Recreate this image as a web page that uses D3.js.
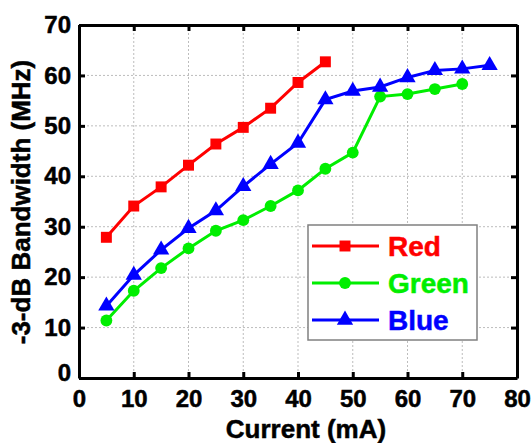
<!DOCTYPE html>
<html>
<head>
<meta charset="utf-8">
<script src="https://cdn.jsdelivr.net/npm/d3@7"></script>
<style>
  html, body { margin: 0; padding: 0; background: #fff; }
  svg { display: block; font-family: "Liberation Sans", Arial, sans-serif; font-weight: bold; }
</style>
</head>
<body>
<div id="root"></div>
<script>
const currents = [5, 10, 15, 20, 25, 30, 35, 40, 45, 50, 55, 60, 65, 70, 75];
const redValues = [27.9, 34.1, 37.9, 42.2, 46.4, 49.7, 53.5, 58.6, 62.7];
const greenValues = [11.4, 17.3, 21.8, 25.7, 29.2, 31.3, 34.1, 37.2, 41.5, 44.7, 55.8, 56.3, 57.3, 58.3];
const blueValues = [14.3, 20.4, 25.4, 29.7, 33.2, 38.0, 42.4, 46.6, 55.2, 56.9, 57.7, 59.6, 61.0, 61.3, 62.0];
const xTicks = [0, 10, 20, 30, 40, 50, 60, 70, 80];
const yTicks = [0, 10, 20, 30, 40, 50, 60, 70];

function drawChart() {
  const width = 532;
  const height = 443;
  const plotLeft = 79;
  const plotRight = 517;
  const plotTop = 25;
  const plotBottom = 378;

  const svg = d3.select('#root').append('svg')
    .attr('width', width)
    .attr('height', height);

  const x = d3.scaleLinear().domain([0, 80]).range([plotLeft, plotRight]);
  const y = d3.scaleLinear().domain([0, 70]).range([plotBottom, plotTop]);

  // dotted grid
  const grid = svg.append('g')
    .attr('stroke', '#bdbdbd')
    .attr('stroke-width', 1)
    .attr('stroke-dasharray', '2,2');
  grid.selectAll('line.vx')
    .data(xTicks.slice(1, -1))
    .join('line')
    .attr('x1', (d) => x(d)).attr('x2', (d) => x(d))
    .attr('y1', plotTop).attr('y2', plotBottom);
  grid.selectAll('line.hy')
    .data(yTicks.slice(1, -1))
    .join('line')
    .attr('x1', plotLeft).attr('x2', plotRight)
    .attr('y1', (d) => y(d)).attr('y2', (d) => y(d));

  const series = [
    { name: 'Red', color: '#ff0000', symbol: d3.symbolSquare, size: 120, values: redValues },
    { name: 'Green', color: '#00ee00', symbol: d3.symbolCircle, size: 110, values: greenValues },
    { name: 'Blue', color: '#0000ff', symbol: d3.symbolTriangle, size: 115, values: blueValues },
  ];

  const lineGen = d3.line()
    .x((d) => x(d[0]))
    .y((d) => y(d[1]));

  series.forEach((s) => {
    const pts = s.values.map((v, i) => [currents[i], v]);
    svg.append('path')
      .datum(pts)
      .attr('fill', 'none')
      .attr('stroke', s.color)
      .attr('stroke-width', 3)
      .attr('d', lineGen);
    svg.append('g')
      .selectAll('path')
      .data(pts)
      .join('path')
      .attr('fill', s.color)
      .attr('transform', (d) => `translate(${x(d[0])},${y(d[1])})`)
      .attr('d', d3.symbol().type(s.symbol).size(s.size));
  });

  // axes, ticks inward on all four sides
  const tickLen = 6;
  const styleAxis = (g) => {
    g.select('.domain').attr('stroke', '#000').attr('stroke-width', 3);
    g.selectAll('.tick line').attr('stroke', '#000').attr('stroke-width', 3);
    g.selectAll('.tick text')
      .attr('fill', '#000')
      .attr('stroke', '#000')
      .attr('stroke-width', 0.5)
      .style('font-size', '24px')
      .style('font-weight', 'bold')
      .style('font-family', '"Liberation Sans", Arial, sans-serif');
  };

  svg.append('g')
    .attr('transform', `translate(0,${plotBottom})`)
    .call(d3.axisBottom(x).tickValues(xTicks).tickSizeInner(-tickLen).tickSizeOuter(0).tickPadding(12))
    .call(styleAxis);
  svg.append('g')
    .attr('transform', `translate(0,${plotTop})`)
    .call(d3.axisTop(x).tickValues(xTicks).tickSizeInner(-tickLen).tickSizeOuter(0).tickFormat(''))
    .call(styleAxis);
  svg.append('g')
    .attr('transform', `translate(${plotLeft},0)`)
    .call(d3.axisLeft(y).tickValues(yTicks).tickSizeInner(-tickLen).tickSizeOuter(0).tickPadding(8))
    .call(styleAxis)
    .call((g) => g.selectAll('.tick text').filter((d) => d === 0).attr('dy', '0.1em'));
  svg.append('g')
    .attr('transform', `translate(${plotRight},0)`)
    .call(d3.axisRight(y).tickValues(yTicks).tickSizeInner(-tickLen).tickSizeOuter(0).tickFormat(''))
    .call(styleAxis);

  // axis titles
  svg.append('text')
    .attr('x', 306)
    .attr('y', 438)
    .attr('text-anchor', 'middle')
    .attr('stroke', '#000')
    .attr('stroke-width', 0.5)
    .style('font-size', '26px')
    .text('Current (mA)');
  svg.append('text')
    .attr('transform', `translate(30,202) rotate(-90)`)
    .attr('text-anchor', 'middle')
    .attr('stroke', '#000')
    .attr('stroke-width', 0.5)
    .style('font-size', '26px')
    .text('-3-dB Bandwidth (MHz)');

  // legend
  const legend = svg.append('g');
  legend.append('rect')
    .attr('x', 308).attr('y', 225)
    .attr('width', 169).attr('height', 115)
    .attr('fill', '#fff')
    .attr('stroke', '#808080')
    .attr('stroke-width', 1.5);
  series.forEach((s, i) => {
    const cy = 246 + i * 37;
    legend.append('line')
      .attr('x1', 312).attr('x2', 379)
      .attr('y1', cy).attr('y2', cy)
      .attr('stroke', s.color)
      .attr('stroke-width', 3);
    legend.append('path')
      .attr('transform', `translate(345,${cy})`)
      .attr('fill', s.color)
      .attr('d', d3.symbol().type(s.symbol).size(s.size));
    legend.append('text')
      .attr('x', 388)
      .attr('y', cy)
      .attr('dy', '0.36em')
      .attr('fill', s.color)
      .attr('stroke', s.color)
      .attr('stroke-width', 0.5)
      .style('font-size', '28px')
      .text(s.name);
  });
}

window.addEventListener('load', function() {
  drawChart();
});
</script>
</body>
</html>
